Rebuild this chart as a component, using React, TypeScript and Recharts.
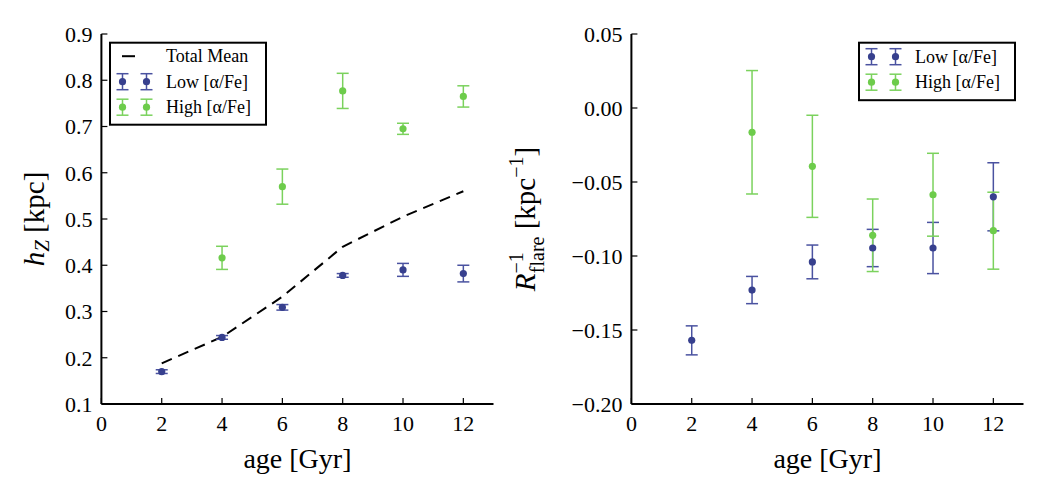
import React from 'react';
import {
  ComposedChart,
  Scatter,
  Line,
  XAxis,
  YAxis,
  ErrorBar,
  Label
} from 'recharts';

// stellar age bins [Gyr]
const ages = [2, 4, 6, 8, 10, 12];
const highAges = [4, 6, 8, 10, 12];

// scale height h_Z [kpc]
const hzLow = [0.17, 0.244, 0.309, 0.378, 0.39, 0.382];
const hzLowErr = [0.004, 0.004, 0.006, 0.004, 0.014, 0.018];
const hzHigh = [0.416, 0.57, 0.777, 0.695, 0.765];
const hzHighErr = [0.025, 0.038, 0.038, 0.012, 0.023];
const hzMean = [0.188, 0.245, 0.332, 0.44, 0.505, 0.56];

// inverse flaring scale length [1/kpc]
const rfLow = [-0.157, -0.123, -0.104, -0.0946, -0.0946, -0.06];
const rfLowErr = [0.0098, 0.0092, 0.0114, 0.0126, 0.0173, 0.023];
const rfHigh = [-0.0164, -0.0394, -0.086, -0.0586, -0.0829];
const rfHighErr = [0.0417, 0.0345, 0.0245, 0.028, 0.026];

const xTicks = [0, 2, 4, 6, 8, 10, 12];
const hzTicks = [0.1, 0.2, 0.3, 0.4, 0.5, 0.6, 0.7, 0.8, 0.9];
const rfTicks = [-0.2, -0.15, -0.1, -0.05, 0, 0.05];

const FONT = 'Liberation Serif';
const LOW = '#37408e';
const LOW_ERR = '#4a52a0';
const HIGH = '#6dcc4b';
const HIGH_ERR = '#7bd25d';

const pts = (xs: number[], vs: number[], es?: number[]) =>
  xs.map((a, i) => ({ age: a, v: vs[i], err: es ? es[i] : 0 }));

const dot = (color: string) => (p: any) => <circle cx={p.cx} cy={p.cy} r={3.6} fill={color} />;

const axisLine = { stroke: '#000', strokeWidth: 2 };
const tickLine = { stroke: '#000', strokeWidth: 1.2 };
const tickStyle = { fill: '#000', fontSize: 22, fontFamily: FONT };

const fmtHz = (v: number) => v.toFixed(1);
const fmtRf = (v: number) => {
  const s = Math.abs(v).toFixed(2);
  return v < -1e-9 ? '\u2212' + s : s;
};

const xLabel = (p: any) => {
  const vb = p.viewBox;
  return (
    <text x={vb.x + vb.width / 2} y={vb.y + 64} textAnchor="middle" fontSize={28} fontFamily={FONT} fill="#000">
      age [Gyr]
    </text>
  );
};

const hzLabel = (p: any) => {
  const vb = p.viewBox;
  const x = vb.x + vb.width - 57;
  const y = vb.y + vb.height / 2;
  return (
    <text x={x} y={y} transform={`rotate(-90, ${x}, ${y})`} textAnchor="middle" fontSize={29} fontFamily={FONT} fill="#000">
      <tspan fontStyle="italic">h</tspan>
      <tspan fontStyle="italic" fontSize={21} dy={5}>Z</tspan>
      <tspan dy={-5}> [kpc]</tspan>
    </text>
  );
};

const rfLabel = (p: any) => {
  const vb = p.viewBox;
  const x = vb.x + vb.width - 96;
  const y = vb.y + vb.height / 2;
  return (
    <text x={x} y={y} transform={`rotate(-90, ${x}, ${y})`} textAnchor="middle" fontSize={29} fontFamily={FONT} fill="#000">
      <tspan fontStyle="italic">R</tspan>
      <tspan fontSize={20} dy={-12}>{'\u22121'}</tspan>
      <tspan fontSize={20} dx={-21} dy={21}>flare</tspan>
      <tspan dy={-9}> [kpc</tspan>
      <tspan fontSize={20} dy={-12}>{'\u22121'}</tspan>
      <tspan dy={12}>]</tspan>
    </text>
  );
};

const ErrGlyph = ({ x, y, color, err }: { x: number; y: number; color: string; err: string }) => (
  <g>
    <line x1={x} x2={x} y1={y - 8} y2={y + 8} stroke={err} strokeWidth={1.5} />
    <line x1={x - 6} x2={x + 6} y1={y - 8} y2={y - 8} stroke={err} strokeWidth={1.5} />
    <line x1={x - 6} x2={x + 6} y1={y + 8} y2={y + 8} stroke={err} strokeWidth={1.5} />
    <circle cx={x} cy={y} r={3.6} fill={color} />
  </g>
);

const legendText = { fontSize: 18, fontFamily: FONT, fill: '#000', dominantBaseline: 'central' as const };

const LegendBox = ({ x, y, w, h, mean }: { x: number; y: number; w: number; h: number; mean: boolean }) => {
  const r0 = mean ? 25 : 0;
  return (
    <g>
      <rect x={x} y={y} width={w} height={h} fill="#fff" stroke="#000" strokeWidth={2} />
      {mean && (
        <g>
          <line x1={x + 12} x2={x + 25} y1={y + 13.5} y2={y + 13.5} stroke="#000" strokeWidth={2} />
          <text x={x + 56} y={y + 13.5} {...legendText}>Total Mean</text>
        </g>
      )}
      <ErrGlyph x={x + 12.5} y={y + 14 + r0} color={LOW} err={LOW_ERR} />
      <ErrGlyph x={x + 36.5} y={y + 14 + r0} color={LOW} err={LOW_ERR} />
      <text x={x + 56} y={y + 14 + r0} {...legendText}>Low [&#945;/Fe]</text>
      <ErrGlyph x={x + 12.5} y={y + 39.5 + r0} color={HIGH} err={HIGH_ERR} />
      <ErrGlyph x={x + 36.5} y={y + 39.5 + r0} color={HIGH} err={HIGH_ERR} />
      <text x={x + 56} y={y + 39.5 + r0} {...legendText}>High [&#945;/Fe]</text>
    </g>
  );
};

export default function App() {
  return (
    <div style={{ position: 'absolute', left: 0, top: 0, width: 1047, height: 499, background: '#fff' }}>
      <div style={{ position: 'absolute', left: 0, top: 0 }}>
        <ComposedChart width={520} height={499} margin={{ top: 34, right: 26.5, bottom: 35, left: 41.4 }}>
          <XAxis dataKey="age" type="number" domain={[0, 13]} ticks={xTicks} height={60} axisLine={axisLine}
            tickLine={tickLine} tickSize={-6} tickMargin={17} tick={tickStyle} interval={0}>
            <Label content={xLabel} />
          </XAxis>
          <XAxis xAxisId="top" orientation="top" type="number" domain={[0, 13]} ticks={xTicks} height={0}
            axisLine={axisLine} tickLine={tickLine} tickSize={-6} tick={false} />
          <YAxis dataKey="v" type="number" domain={[0.1, 0.9]} ticks={hzTicks} width={60} axisLine={axisLine}
            tickLine={tickLine} tickSize={-6} tickMargin={15} tick={tickStyle} tickFormatter={fmtHz} interval={0}>
            <Label content={hzLabel} />
          </YAxis>
          <YAxis yAxisId="right" orientation="right" type="number" domain={[0.1, 0.9]} ticks={hzTicks} width={0}
            axisLine={axisLine} tickLine={tickLine} tickSize={-6} tick={false} />
          <Line data={pts(ages, hzMean)} dataKey="v" stroke="#000" strokeWidth={2} strokeDasharray="11 7"
            dot={false} activeDot={false} isAnimationActive={false} />
          <Scatter data={pts(ages, hzLow, hzLowErr)} dataKey="v" shape={dot(LOW)} isAnimationActive={false}>
            <ErrorBar dataKey="err" direction="y" width={6} stroke={LOW_ERR} strokeWidth={1.5} isAnimationActive={false} />
          </Scatter>
          <Scatter data={pts(highAges, hzHigh, hzHighErr)} dataKey="v" shape={dot(HIGH)} isAnimationActive={false}>
            <ErrorBar dataKey="err" direction="y" width={6} stroke={HIGH_ERR} strokeWidth={1.5} isAnimationActive={false} />
          </Scatter>
        </ComposedChart>
      </div>
      <div style={{ position: 'absolute', left: 500, top: 0 }}>
        <ComposedChart width={547} height={499} margin={{ top: 34, right: 23.5, bottom: 35, left: 71.4 }}>
          <XAxis dataKey="age" type="number" domain={[0, 13]} ticks={xTicks} height={60} axisLine={axisLine}
            tickLine={tickLine} tickSize={-6} tickMargin={17} tick={tickStyle} interval={0}>
            <Label content={xLabel} />
          </XAxis>
          <XAxis xAxisId="top" orientation="top" type="number" domain={[0, 13]} ticks={xTicks} height={0}
            axisLine={axisLine} tickLine={tickLine} tickSize={-6} tick={false} />
          <YAxis dataKey="v" type="number" domain={[-0.2, 0.05]} ticks={rfTicks} width={60} axisLine={axisLine}
            tickLine={tickLine} tickSize={-6} tickMargin={15} tick={tickStyle} tickFormatter={fmtRf} interval={0}>
            <Label content={rfLabel} />
          </YAxis>
          <YAxis yAxisId="right" orientation="right" type="number" domain={[-0.2, 0.05]} ticks={rfTicks} width={0}
            axisLine={axisLine} tickLine={tickLine} tickSize={-6} tick={false} />
          <Scatter data={pts(ages, rfLow, rfLowErr)} dataKey="v" shape={dot(LOW)} isAnimationActive={false}>
            <ErrorBar dataKey="err" direction="y" width={6} stroke={LOW_ERR} strokeWidth={1.5} isAnimationActive={false} />
          </Scatter>
          <Scatter data={pts(highAges, rfHigh, rfHighErr)} dataKey="v" shape={dot(HIGH)} isAnimationActive={false}>
            <ErrorBar dataKey="err" direction="y" width={6} stroke={HIGH_ERR} strokeWidth={1.5} isAnimationActive={false} />
          </Scatter>
        </ComposedChart>
      </div>
      <svg width={1047} height={499} style={{ position: 'absolute', left: 0, top: 0, pointerEvents: 'none' }}>
        <LegendBox x={110} y={42.7} w={156} h={82} mean={true} />
        <LegendBox x={859} y={42.7} w={156} h={57.5} mean={false} />
      </svg>
    </div>
  );
}
